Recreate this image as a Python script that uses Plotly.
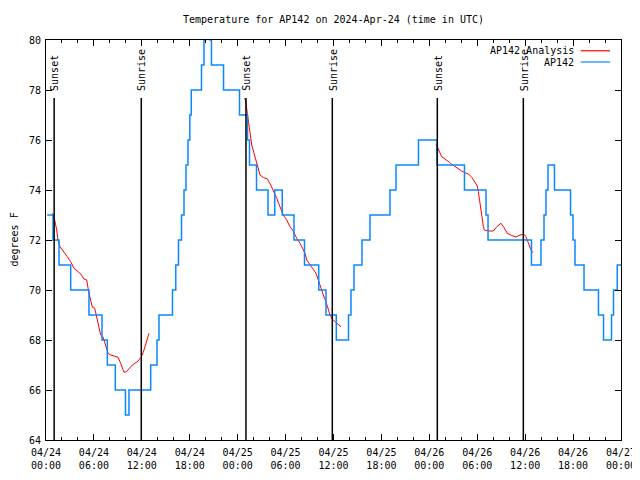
import plotly.graph_objects as go
import pandas as pd

BASE = pd.Timestamp("2024-04-24 00:00")

# AP142 station readings: change points (hours after 04/24 00:00 UTC, degrees F)
station_hours = [0.15, 0.88, 1.63, 3.09, 5.38, 7.01, 7.68, 8.68, 9.95, 10.39,
                 13.11, 13.90, 14.15, 15.84, 16.25, 16.59, 16.97, 17.28, 17.53, 17.78,
                 18.01, 18.19, 19.47, 19.78, 19.97, 20.54, 20.72, 22.23, 24.23, 25.23,
                 25.48, 26.36, 27.80, 28.64, 29.58, 31.05, 32.37, 34.15, 35.06, 36.35,
                 37.88, 38.19, 38.57, 39.57, 40.57, 43.07, 43.83, 46.64, 48.96, 52.40,
                 55.10, 55.35, 60.79, 61.98, 62.36, 62.61, 62.86, 63.67, 65.68, 65.99,
                 66.24, 67.37, 69.18, 69.81, 70.81, 71.06, 71.53, 72.00]
station_temps = [73, 72, 71, 70, 69, 68, 67, 66, 65, 66,
                 67, 68, 69, 70, 71, 72, 73, 74, 75, 76,
                 77, 78, 79, 80, 81, 80, 79, 78, 77, 76,
                 75, 74, 73, 74, 73, 72, 71, 70, 69, 68,
                 69, 70, 71, 72, 73, 74, 75, 76, 75, 74,
                 73, 72, 71, 72, 73, 74, 75, 74, 73, 72,
                 71, 70, 69, 68, 69, 70, 71, 71]

# AP142 Analysis (three night segments)
analysis1_hours = [0.79, 1.09, 1.34, 1.50, 1.75, 2.25, 2.67, 3.09, 3.51, 3.92,
                   4.35, 4.76, 5.10, 5.30, 5.60, 5.80, 6.10, 6.35, 6.64, 6.85,
                   7.14, 7.35, 7.60, 7.76, 8.10, 8.51, 9.02, 9.35, 9.77, 10.06,
                   10.39, 10.81, 11.43, 11.93, 12.27, 12.61, 12.90]
analysis1_temps = [73.07, 72.80, 72.40, 72.00, 71.73, 71.53, 71.33, 71.13, 70.87, 70.76,
                   70.64, 70.44, 70.40, 70.00, 69.60, 69.31, 69.27, 68.93, 68.53, 68.20,
                   68.13, 67.93, 67.67, 67.47, 67.40, 67.36, 67.31, 67.07, 66.71, 66.73,
                   66.87, 67.00, 67.13, 67.31, 67.60, 68.00, 68.27]

analysis2_hours = [24.83, 24.98, 25.21, 25.46, 25.76, 26.05, 26.30, 26.58, 26.80, 27.21,
                   27.71, 28.14, 28.55, 28.89, 29.21, 29.51, 29.71, 30.14, 30.55, 30.89,
                   31.18, 31.39, 31.81, 32.14, 32.43, 32.65, 32.97, 33.40, 33.81, 34.10,
                   34.40, 34.72, 35.06, 35.27, 35.56, 35.85, 36.19, 36.60, 36.94]
analysis2_temps = [77.67, 77.60, 77.07, 76.40, 75.80, 75.47, 75.20, 74.90, 74.60, 74.50,
                   74.45, 74.20, 73.93, 73.67, 73.40, 73.13, 73.00, 72.80, 72.53, 72.40,
                   72.20, 72.07, 71.87, 71.67, 71.47, 71.20, 71.04, 70.87, 70.67, 70.40,
                   70.07, 69.80, 69.53, 69.27, 69.00, 68.83, 68.73, 68.60, 68.53]

analysis3_hours = [48.84, 49.00, 49.25, 49.55, 49.84, 50.18, 50.50, 50.80, 51.21, 51.63,
                   52.05, 52.47, 52.88, 53.31, 53.72, 54.01, 54.13, 54.26, 54.43, 54.56,
                   54.76, 54.88, 55.39, 56.01, 56.44, 56.97, 57.35, 57.76, 58.32, 58.85,
                   59.35, 59.85, 60.10, 60.39, 60.61, 60.82, 61.02]
analysis3_temps = [75.84, 75.73, 75.53, 75.33, 75.27, 75.20, 75.11, 75.03, 74.93, 74.84,
                   74.76, 74.69, 74.64, 74.51, 74.33, 74.16, 73.95, 73.60, 73.27, 73.00,
                   72.55, 72.40, 72.36, 72.36, 72.53, 72.67, 72.50, 72.27, 72.18, 72.12,
                   72.20, 72.23, 72.13, 71.90, 71.65, 71.53, 71.51]

sunset_hours = [1.02, 25.04, 49.00]
sunrise_hours = [11.93, 35.85, 59.77]

RED = "#ff0000"
BLUE = "#0a88ff"
FONT = "DejaVu Sans Mono"

# figure is drawn inside the page's default 8px body margin
FIG_W, FIG_H = 632, 472


def to_time(hours):
    return [BASE + pd.Timedelta(hours=h) for h in hours]


fig = go.Figure()

for hrs, tmp in [(analysis1_hours, analysis1_temps),
                 (analysis2_hours, analysis2_temps),
                 (analysis3_hours, analysis3_temps)]:
    fig.add_trace(go.Scatter(x=to_time(hrs), y=tmp, mode="lines",
                             line=dict(color=RED, width=1),
                             name="AP142 Analysis", showlegend=False))

fig.add_trace(go.Scatter(x=to_time(station_hours), y=station_temps, mode="lines",
                         line=dict(color=BLUE, width=1.5, shape="hv"),
                         name="AP142", showlegend=False))

# sun event lines and labels
for label, hrs in [("Sunset", sunset_hours), ("Sunrise", sunrise_hours)]:
    for t in to_time(hrs):
        fig.add_shape(type="line", xref="x", yref="paper", x0=t, x1=t,
                      y0=0, y1=0.855, line=dict(color="black", width=1.5))
        fig.add_annotation(x=t, xref="x", y=0.868, yref="paper", text=label,
                           textangle=-90, showarrow=False, xanchor="center",
                           yanchor="bottom", xshift=1,
                           font=dict(family=FONT, size=10, color="black"))

# gnuplot-style key (text right, sample line on the right)
key = [("AP142 Analysis", RED, 0.973), ("AP142", BLUE, 0.945)]
for text, col, yy in key:
    fig.add_annotation(x=0.921, xref="paper", y=yy, yref="paper", text=text,
                       showarrow=False, xanchor="right", yanchor="middle",
                       font=dict(family=FONT, size=10, color="black"))
    fig.add_shape(type="line", xref="paper", yref="paper", x0=0.930, x1=0.981,
                  y0=yy, y1=yy, line=dict(color=col, width=1.2))

# y axis label
fig.add_annotation(x=-0.0565, xref="paper", y=0.5, yref="paper", text="degrees F",
                   textangle=-90, showarrow=False, xanchor="center", yanchor="middle",
                   font=dict(family=FONT, size=10, color="black"))

axis_common = dict(showline=True, linecolor="black", linewidth=1, mirror="ticks",
                   ticks="inside", tickcolor="black", ticklen=6, showgrid=False,
                   zeroline=False, automargin=False,
                   tickfont=dict(family=FONT, size=10, color="black"))

fig.update_xaxes(type="date", range=[BASE, BASE + pd.Timedelta(hours=72)],
                 tick0=BASE, dtick=6 * 3600 * 1000, tickformat="%m/%d<br>%H:%M",
                 ticklabelstandoff=3,
                 minor=dict(dtick=2 * 3600 * 1000, ticks="inside", ticklen=3,
                            tickcolor="black", showgrid=False),
                 **axis_common)
fig.update_yaxes(range=[64, 80], dtick=2, ticklabelstandoff=2, **axis_common)

fig.update_layout(
    width=FIG_W, height=FIG_H,
    margin=dict(l=38, r=19, t=32, b=40),
    paper_bgcolor="white", plot_bgcolor="white",
    title=dict(text="Temperature for AP142 on 2024-Apr-24 (time in UTC)",
               x=0.5, xref="paper", y=1 - 11 / FIG_H, yref="container",
               xanchor="center", yanchor="middle",
               font=dict(family=FONT, size=10, color="black")),
    font=dict(family=FONT, size=10, color="black"),
    showlegend=False,
)

fig.write_html("out.html")
